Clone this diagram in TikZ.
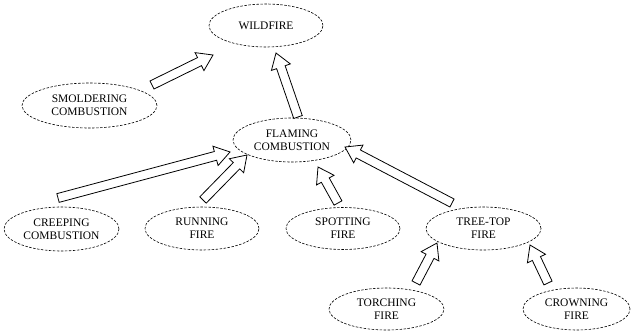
\documentclass[tikz,border=0pt]{standalone}
\usepackage{fontspec}
\setmainfont{Liberation Serif}
\usetikzlibrary{calc,shapes.geometric}

% hollow block arrow from a tail point to a tip point
\newcommand\hollowarrow[2]{%
  \draw[blockarrow] let \p1=($(#2)-(#1)$), \n1={atan2(\y1,\x1)},
      \n2={veclen(\x1,\y1)-15} in
    ($(#1)+(\n1+90:4.5)$) -- ($(#1)+(\n1:\n2)+(\n1+90:4.5)$)
    -- ($(#1)+(\n1:\n2)+(\n1+90:10)$) -- (#2)
    -- ($(#1)+(\n1:\n2)+(\n1-90:10)$) -- ($(#1)+(\n1:\n2)+(\n1-90:4.5)$)
    -- ($(#1)+(\n1-90:4.5)$) -- cycle;}

\begin{document}
\begin{tikzpicture}[x=1pt,y=1pt,
  stage/.style={ellipse, draw, line width=0.6pt, dash pattern=on 2.5pt off 1.5pt,
    inner sep=0pt, align=center, font=\fontsize{11.5}{13}\selectfont},
  blockarrow/.style={draw, line width=0.8pt, line join=miter, fill=white}]
\useasboundingbox (0,0) rectangle (631,-331);

% fire stages
\node[stage, minimum width=114, minimum height=43] (wild)  at (266,-25.5)  {WILDFIRE};
\node[stage, minimum width=135, minimum height=45] (smold) at (89.5,-105.5) {SMOLDERING\\COMBUSTION};
\node[stage, minimum width=118, minimum height=44] (flam)  at (292,-140)   {FLAMING\\COMBUSTION};
\node[stage, minimum width=115, minimum height=44] (creep) at (61.5,-229)  {CREEPING\\COMBUSTION};
\node[stage, minimum width=114, minimum height=43] (run)   at (202,-228.5) {RUNNING\\FIRE};
\node[stage, minimum width=114, minimum height=42] (spot)  at (343,-228.5) {SPOTTING\\FIRE};
\node[stage, minimum width=115, minimum height=43] (tree)  at (483.5,-228.5) {TREE-TOP\\FIRE};
\node[stage, minimum width=115, minimum height=42] (torch) at (386.5,-309) {TORCHING\\FIRE};
\node[stage, minimum width=107, minimum height=42] (crown) at (576.5,-309) {CROWNING\\FIRE};

% arrow ends
\coordinate (smold-t) at (152,-85);   \coordinate (smold-h) at (213,-55);
\coordinate (flam-t)  at (298,-117);  \coordinate (flam-h)  at (276,-53);
\coordinate (creep-t) at (58,-198);   \coordinate (creep-h) at (230,-152);
\coordinate (run-t)   at (203,-200);  \coordinate (run-h)   at (247,-155);
\coordinate (spot-t)  at (338,-203);  \coordinate (spot-h)  at (318,-167);
\coordinate (tree-t)  at (452,-203);  \coordinate (tree-h)  at (345,-147);
\coordinate (torch-t) at (416,-283);  \coordinate (torch-h) at (437,-243);
\coordinate (crown-t) at (548,-283);  \coordinate (crown-h) at (530,-245);

\hollowarrow{smold-t}{smold-h}
\hollowarrow{flam-t}{flam-h}
\hollowarrow{creep-t}{creep-h}
\hollowarrow{run-t}{run-h}
\hollowarrow{spot-t}{spot-h}
\hollowarrow{tree-t}{tree-h}
\hollowarrow{torch-t}{torch-h}
\hollowarrow{crown-t}{crown-h}
\end{tikzpicture}
\end{document}
